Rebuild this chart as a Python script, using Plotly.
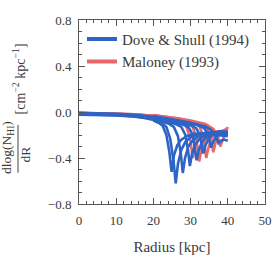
import plotly.graph_objects as go

# ---- Data ----
dove_x = [
    [0,5,10,15,18,20,21.5,22.5,23.5,24.3,24.9,25.5,26.4,27.5,29,31,34,37,40],
    [0,5,10,15,18,20,22,23.5,24.5,25.4,26.0,26.6,27.5,28.6,30,32,35,38,40],
    [0,5,10,15,18,20,22,24,25.5,26.6,27.4,27.9,28.5,29.4,30.5,32,34,37,40],
    [0,5,10,15,18,20,22,24,26,27.5,28.6,29.3,29.8,30.4,31.3,32.5,34,36,38,40],
    [0,5,10,15,18,20,22,24,26,28,29.5,30.6,31.2,31.6,32.2,33.1,34.3,36,38,40],
    [0,5,10,15,18,20,22,24,26,28,30,31.5,32.5,33,33.4,34,34.9,36,37.5,40],
    [0,5,10,15,18,20,22,24,26,28,30,32,33.6,34.6,35.1,35.5,36.1,37,38.2,40],
    [0,5,10,15,18,20,22,24,26,28,30,32,34,35.7,36.7,37.2,37.5,38.2,39,40],
]
dove_y = [
    [-0.03,-0.032,-0.037,-0.048,-0.06,-0.075,-0.095,-0.12,-0.2,-0.35,-0.52,-0.38,-0.29,-0.24,-0.21,-0.19,-0.19,-0.20,-0.21],
    [-0.026,-0.028,-0.033,-0.043,-0.055,-0.068,-0.09,-0.13,-0.23,-0.42,-0.62,-0.45,-0.33,-0.26,-0.22,-0.19,-0.18,-0.19,-0.20],
    [-0.022,-0.024,-0.029,-0.038,-0.05,-0.062,-0.078,-0.10,-0.13,-0.21,-0.37,-0.53,-0.40,-0.30,-0.25,-0.21,-0.18,-0.18,-0.20],
    [-0.018,-0.02,-0.025,-0.034,-0.045,-0.056,-0.07,-0.088,-0.105,-0.13,-0.2,-0.33,-0.47,-0.36,-0.28,-0.23,-0.2,-0.18,-0.18,-0.19],
    [-0.014,-0.016,-0.021,-0.03,-0.04,-0.05,-0.063,-0.078,-0.093,-0.11,-0.135,-0.2,-0.31,-0.42,-0.33,-0.26,-0.21,-0.18,-0.17,-0.18],
    [-0.01,-0.012,-0.017,-0.026,-0.035,-0.045,-0.057,-0.07,-0.084,-0.098,-0.115,-0.14,-0.2,-0.28,-0.36,-0.29,-0.23,-0.19,-0.17,-0.17],
    [-0.006,-0.008,-0.013,-0.022,-0.031,-0.04,-0.051,-0.063,-0.076,-0.089,-0.1,-0.115,-0.14,-0.19,-0.25,-0.31,-0.26,-0.21,-0.18,-0.18],
    [-0.002,-0.004,-0.009,-0.018,-0.027,-0.036,-0.046,-0.057,-0.069,-0.081,-0.093,-0.106,-0.125,-0.16,-0.21,-0.24,-0.27,-0.25,-0.24,-0.25],
]
maloney_x = [
    [0,10,15,20,24,27,28.8,29.8,30.6,31.2,32,33.5,36,40],
    [0,10,15,20,24,27,29,30.5,31.5,32.3,32.9,33.8,35.2,37.5,40],
    [0,10,15,20,24,27,30,32.3,33.4,34.2,34.8,35.7,37,40],
    [0,10,15,20,24,27,30,32,34.2,35.3,36.1,36.7,37.7,39,40],
    [0,10,15,20,24,27,30,32,34,36.2,37.3,38,38.6,39.3,40],
]
maloney_y = [
    [-0.004,-0.01,-0.018,-0.035,-0.055,-0.08,-0.12,-0.22,-0.40,-0.31,-0.24,-0.19,-0.17,-0.17],
    [-0.003,-0.009,-0.016,-0.032,-0.05,-0.072,-0.09,-0.12,-0.22,-0.43,-0.33,-0.25,-0.2,-0.17,-0.16],
    [-0.002,-0.008,-0.015,-0.03,-0.047,-0.066,-0.09,-0.12,-0.21,-0.40,-0.31,-0.23,-0.18,-0.15],
    [-0.001,-0.007,-0.014,-0.028,-0.044,-0.06,-0.08,-0.095,-0.13,-0.21,-0.35,-0.27,-0.2,-0.16,-0.14],
    [0.0,-0.006,-0.013,-0.026,-0.041,-0.056,-0.074,-0.088,-0.105,-0.15,-0.21,-0.30,-0.24,-0.18,-0.13],
]
x_ticks = [0, 10, 20, 30, 40, 50]
y_ticks = [-0.8, -0.4, 0.0, 0.4, 0.8]

BLUE = "#2e64c6"
RED = "#e8686a"
SPLIT = 20  # curves drawn thin before this radius, thick after

fig = go.Figure()

def add_curve(xs, ys, color):
    xa = [x for x in xs if x <= SPLIT]
    ya = [y for x, y in zip(xs, ys) if x <= SPLIT]
    xb = [x for x in xs if x >= SPLIT]
    yb = [y for x, y in zip(xs, ys) if x >= SPLIT]
    fig.add_trace(go.Scatter(x=xa, y=ya, mode="lines", line=dict(color=color, width=1.2),
                             showlegend=False, hoverinfo="skip"))
    fig.add_trace(go.Scatter(x=xb, y=yb, mode="lines", line=dict(color=color, width=2.6),
                             showlegend=False, hoverinfo="skip"))

for xs, ys in zip(maloney_x, maloney_y):
    add_curve(xs, ys, RED)
for xs, ys in zip(dove_x, dove_y):
    add_curve(xs, ys, BLUE)

# legend entries
fig.add_trace(go.Scatter(x=[None], y=[None], mode="lines", line=dict(color=BLUE, width=4),
                         name="Dove & Shull (1994)"))
fig.add_trace(go.Scatter(x=[None], y=[None], mode="lines", line=dict(color=RED, width=4),
                         name="Maloney (1993)"))

FONT = "Liberation Serif, Times New Roman, serif"
TXT = "#3a3a3a"
axis_common = dict(
    showline=True, linecolor="#555", linewidth=1, mirror="ticks",
    ticks="inside", ticklen=6, tickcolor="#555", tickwidth=1,
    showgrid=False, zeroline=False, automargin=False,
    tickfont=dict(family=FONT, size=13, color=TXT),
)
fig.update_xaxes(range=[0, 50], tickvals=x_ticks, ticktext=[str(v) for v in x_ticks],
                 minor=dict(dtick=2, ticks="inside", ticklen=3, tickcolor="#555"),
                 ticklabelstandoff=4,
                 title=dict(text="Radius [kpc]", font=dict(family=FONT, size=15, color=TXT), standoff=18),
                 **axis_common)
fig.update_yaxes(range=[-0.8, 0.8], tickvals=y_ticks,
                 ticktext=[("\u2212" if v < 0 else "") + f"{abs(v):.1f}" for v in y_ticks],
                 minor=dict(dtick=0.1, ticks="inside", ticklen=3, tickcolor="#555"),
                 ticklabelstandoff=4,
                 **axis_common)

# y-axis title as a rotated fraction
tfont = dict(family=FONT, size=13.5, color=TXT)
fig.add_annotation(xref="paper", yref="paper", x=-0.382, y=0.31, text="dlog(N<sub>HI</sub>)",
                   textangle=-90, showarrow=False, font=tfont, xanchor="center", yanchor="middle")
fig.add_annotation(xref="paper", yref="paper", x=-0.29, y=0.27, text="dR",
                   textangle=-90, showarrow=False, font=tfont, xanchor="center", yanchor="middle")
fig.add_annotation(xref="paper", yref="paper", x=-0.325, y=0.68,
                   text="[cm<sup>\u22122</sup> kpc<sup>\u22121</sup>]",
                   textangle=-90, showarrow=False, font=dict(family=FONT, size=14, color=TXT),
                   xanchor="center", yanchor="middle")
fig.add_shape(type="line", xref="paper", yref="paper", x0=-0.328, x1=-0.328, y0=0.17, y1=0.43,
              line=dict(color="#444", width=1))

fig.update_layout(
    width=275, height=255,
    margin=dict(l=79, r=10, t=20, b=51),
    paper_bgcolor="white", plot_bgcolor="white",
    legend=dict(x=0.016, y=0.985, xanchor="left", yanchor="top", bgcolor="rgba(0,0,0,0)",
                font=dict(family=FONT, size=15, color=TXT), itemwidth=30, tracegroupgap=0),
)

# remove the page's default 8px body margin so the figure sits at the window's corner
fig.write_html("out.html", config={"displayModeBar": False},
               post_script="document.body.style.margin='0';")
